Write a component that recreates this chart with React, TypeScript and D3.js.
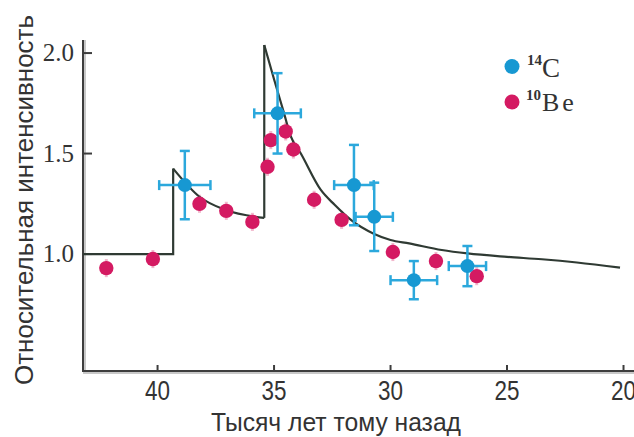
import React from "react";
import * as d3 from "d3";

// model curve (thousand years ago, relative intensity)
const modelX = [43.2, 39.33, 39.33, 38.2, 37.1, 35.42, 35.42, 35.0, 34.57, 34.28, 33.85, 33.0, 32.4, 31.7, 30.7, 30.0, 29.2, 27.8, 26.7, 25.0, 23.5, 22.0, 20.15];
const modelY = [1.0, 1.0, 1.425, 1.285, 1.22, 1.18, 2.04, 1.87, 1.7, 1.585, 1.5, 1.32, 1.245, 1.17, 1.1, 1.07, 1.053, 1.02, 1.003, 0.986, 0.974, 0.958, 0.932];
// index ranges of the model pieces: straight steps and smooth decays
const modelPieces: [number, number, boolean][] = [[0, 3, false], [2, 6, true], [5, 7, false], [6, 23, true]];

// 14C measurements with errors
const c14X = [38.83, 34.85, 31.57, 30.7, 29.0, 26.7];
const c14Y = [1.343, 1.7, 1.343, 1.185, 0.87, 0.94];
const c14Xerr = [1.1, 1.0, 0.85, 0.8, 1.0, 0.8];
const c14Yerr = [0.17, 0.2, 0.2, 0.17, 0.095, 0.1];

// 10Be measurements
const be10X = [42.2, 40.2, 38.2, 37.05, 35.93, 35.28, 35.14, 34.5, 34.17, 33.28, 32.1, 29.9, 28.05, 26.3];
const be10Y = [0.93, 0.975, 1.25, 1.215, 1.16, 1.434, 1.567, 1.61, 1.52, 1.27, 1.17, 1.01, 0.965, 0.89];

const xTicks = [40, 35, 30, 25, 20];
const yTicks = [1.0, 1.5, 2.0];

const blue = "#1798d2";
const blueBar = "#2ba8dc";
const pink = "#d41a62";

export default function App() {
  const W = 634, H = 437;
  const x = d3.scaleLinear().domain([43.2, 19.55]).range([83, 634]);
  const y = d3.scaleLinear().domain([0.418, 2.065]).range([371, 40]);

  const pts: [number, number][] = modelX.map((v, i) => [x(v), y(modelY[i])]);
  const straight = d3.line();
  const smooth = d3.line().curve(d3.curveMonotoneX);

  const cap = 5;

  return (
    <svg width={W} height={H} style={{ position: "absolute", left: 0, top: 0, background: "#fff" }}>
      {/* axes */}
      <g>
        <line x1={x(43.2) + 2} x2={x(43.2) + 2} y1={40} y2={373} stroke="#c8c8c8" strokeWidth={2} />
        <line x1={x(43.2)} x2={634} y1={y(0.418) + 2} y2={y(0.418) + 2} stroke="#c8c8c8" strokeWidth={2} />
        <line x1={x(43.2)} x2={x(43.2)} y1={40} y2={372} stroke="#3d3d3d" strokeWidth={2} />
        <line x1={x(43.2) - 1} x2={634} y1={y(0.418)} y2={y(0.418)} stroke="#3d3d3d" strokeWidth={2} />
        {yTicks.map((t) => (
          <g key={t}>
            <line x1={x(43.2)} x2={x(43.2) + 9} y1={y(t)} y2={y(t)} stroke="#3d3d3d" strokeWidth={2} />
            <text x={74} y={y(t) + 8} textAnchor="end" fontFamily="Liberation Serif" fontSize={25} fill="#333">
              {d3.format(".1f")(t)}
            </text>
          </g>
        ))}
        {xTicks.map((t) => (
          <g key={t}>
            <line x1={x(t)} x2={x(t)} y1={y(0.418)} y2={y(0.418) - 6} stroke="#3d3d3d" strokeWidth={2} />
            <text x={x(t)} y={400} textAnchor="middle" fontFamily="Liberation Sans" fontSize={27} fill="#333"
              textLength={25} lengthAdjust="spacingAndGlyphs">
              {t}
            </text>
          </g>
        ))}
        <text x={336} y={431} textAnchor="middle" fontFamily="Liberation Sans" fontSize={26} fill="#333"
          textLength={250} lengthAdjust="spacingAndGlyphs">
          Тысяч лет тому назад
        </text>
        <text transform="translate(33,200) rotate(-90)" textAnchor="middle" fontFamily="Liberation Sans" fontSize={26}
          fill="#333" textLength={370} lengthAdjust="spacingAndGlyphs">
          Относительная интенсивность
        </text>
      </g>

      {/* 10Be faint error bars */}
      {be10X.map((v, i) => (
        <line key={"be" + i} x1={x(v)} x2={x(v)} y1={y(be10Y[i] + 0.045)} y2={y(be10Y[i] - 0.045)}
          stroke="#f2b8cd" strokeWidth={3} />
      ))}

      {/* model curve */}
      <g fill="none" stroke="#2f3a33" strokeWidth={2.2}>
        {modelPieces.map(([a, b, isSmooth], k) => {
          const seg = pts.slice(a, b);
          return <path key={k} d={(isSmooth ? smooth : straight)(seg) ?? ""} />;
        })}
      </g>

      {/* 10Be points */}
      {be10X.map((v, i) => (
        <circle key={"bp" + i} cx={x(v)} cy={y(be10Y[i])} r={7.2} fill={pink} />
      ))}

      {/* 14C with error bars */}
      {c14X.map((v, i) => {
        const cx = x(v), cy = y(c14Y[i]);
        const x0 = x(v + c14Xerr[i]), x1 = x(v - c14Xerr[i]);
        const y0 = y(c14Y[i] + c14Yerr[i]), y1 = y(c14Y[i] - c14Yerr[i]);
        return (
          <g key={"c" + i} stroke={blueBar} strokeWidth={2.5}>
            <line x1={x0} x2={x1} y1={cy} y2={cy} />
            <line x1={cx} x2={cx} y1={y0} y2={y1} />
            <line x1={x0} x2={x0} y1={cy - cap} y2={cy + cap} />
            <line x1={x1} x2={x1} y1={cy - cap} y2={cy + cap} />
            <line x1={cx - cap} x2={cx + cap} y1={y0} y2={y0} />
            <line x1={cx - cap} x2={cx + cap} y1={y1} y2={y1} />
            <circle cx={cx} cy={cy} r={7} fill={blue} stroke="none" />
          </g>
        );
      })}

      {/* legend */}
      <g fontFamily="Liberation Serif" fill="#333">
        <circle cx={512} cy={66.5} r={7.5} fill={blue} />
        <text x={527} y={65} fontSize={15} fontWeight="bold">14</text>
        <text x={542} y={77} fontSize={27}>C</text>
        <circle cx={512} cy={102} r={7.5} fill={pink} />
        <text x={526} y={100} fontSize={15} fontWeight="bold">10</text>
        <text x={542} y={111} fontSize={26} letterSpacing={3}>Be</text>
      </g>
    </svg>
  );
}
